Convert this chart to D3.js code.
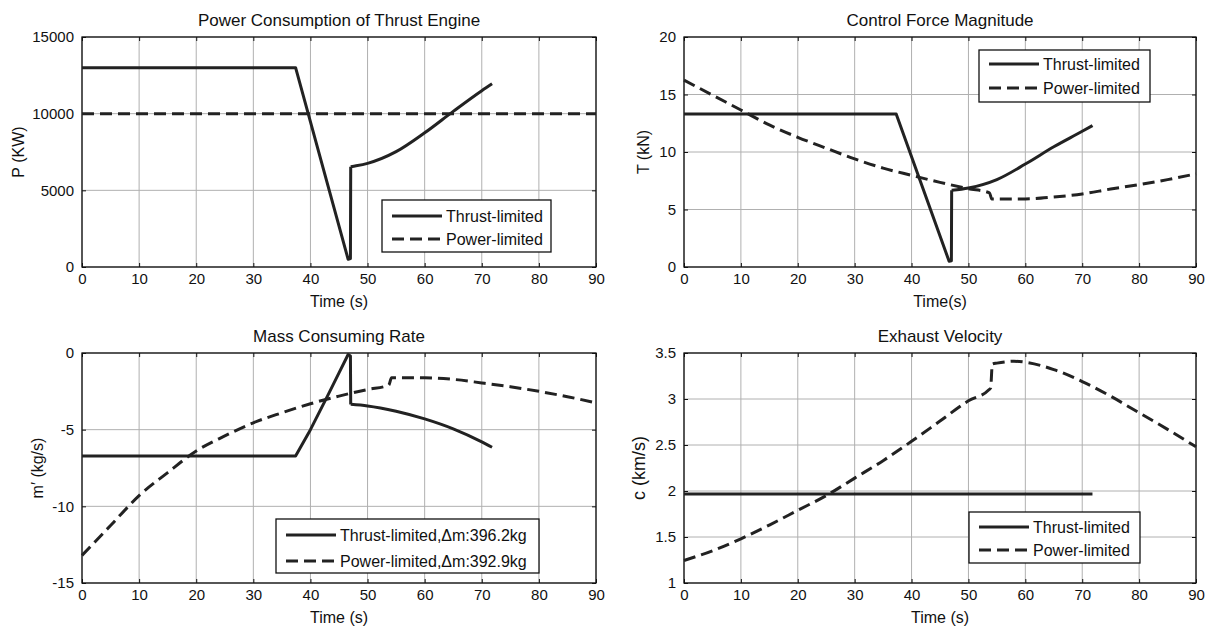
<!DOCTYPE html>
<html>
<head>
<meta charset="utf-8">
<script src="https://cdn.jsdelivr.net/npm/d3@7"></script>
<style>
  body { margin: 0; background: #fff; }
  svg { display: block; font-family: "Liberation Sans", Arial, sans-serif; }
</style>
</head>
<body>
<div class="graph"></div>
<script>
// --- data ---
const timeTicks = [0, 10, 20, 30, 40, 50, 60, 70, 80, 90];

// power consumption (kW)
const pThrustT = [0, 37.4, 46.6, 47.0, 47.05, 48, 50, 55, 60, 65, 70, 71.8];
const pThrustV = [13000, 13000, 500, 550, 6540, 6600, 6760, 7520, 8750, 10150, 11500, 11950];
const pPowerT = [0, 90];
const pPowerV = [10000, 10000];
const pTicks = [0, 5000, 10000, 15000];

// control force (kN)
const fThrustT = [0, 37.3, 46.6, 47.0, 47.05, 50, 55, 60, 65, 70, 71.8];
const fThrustV = [13.3, 13.3, 0.5, 0.55, 6.67, 6.87, 7.6, 8.95, 10.45, 11.8, 12.3];
const fPowerT = [0, 5, 10, 15, 20, 25, 30, 35, 40, 45, 50, 53.7, 54.1, 60, 65, 70, 75, 80, 85, 90];
const fPowerV = [16.25, 14.95, 13.65, 12.35, 11.28, 10.33, 9.4, 8.6, 7.97, 7.36, 6.81, 6.45, 5.92, 5.92, 6.09, 6.35, 6.78, 7.16, 7.6, 8.1];
const fTicks = [0, 5, 10, 15, 20];

// mass consuming rate (kg/s)
const mThrustT = [0, 37.4, 40, 43, 45, 46.6, 47.0, 47.05, 50, 55, 60, 65, 70, 71.8];
const mThrustV = [-6.72, -6.72, -5.0, -2.8, -1.3, -0.1, -0.2, -3.35, -3.45, -3.8, -4.3, -4.95, -5.8, -6.15];
const mPowerT = [0, 5, 10, 15, 20, 25, 30, 35, 40, 45, 50, 53.7, 54.2, 60, 65, 70, 75, 80, 85, 90];
const mPowerV = [-13.2, -11.25, -9.3, -7.8, -6.39, -5.41, -4.55, -3.9, -3.31, -2.81, -2.38, -2.1, -1.62, -1.62, -1.72, -1.95, -2.2, -2.5, -2.85, -3.25];
const mTicks = [-15, -10, -5, 0];

// exhaust velocity (km/s)
const cThrustT = [0, 71.8];
const cThrustV = [1.967, 1.967];
const cPowerT = [0, 5, 10, 15, 20, 25, 30, 35, 40, 45, 50, 53.6, 53.9, 54.2, 55, 58, 60, 65, 70, 75, 80, 85, 90];
const cPowerV = [1.245, 1.35, 1.48, 1.63, 1.79, 1.95, 2.14, 2.33, 2.54, 2.76, 2.98, 3.10, 3.12, 3.38, 3.39, 3.41, 3.40, 3.32, 3.19, 3.03, 2.85, 2.67, 2.48];
const cTicks = [1, 1.5, 2, 2.5, 3, 3.5];

const svg = d3.select(".graph").append("svg")
    .attr("width", 1208)
    .attr("height", 629);

svg.append("rect").attr("width", 1208).attr("height", 629).attr("fill", "#fff");

function zip(t, v) {
    return t.map(function (d, i) { return [d, v[i]]; });
}

function addPanel(p) {
    var w = p.right - p.left, h = p.bottom - p.top;
    var x = d3.scaleLinear().domain([0, 90]).range([0, w]);
    var y = d3.scaleLinear().domain(p.yDomain).range([h, 0]);
    var fmt = function (d) { return d; };

    var g = svg.append("g")
        .attr("transform", "translate(" + p.left + "," + p.top + ")");

    // grid
    g.selectAll(".gx").data(timeTicks).enter().append("line")
        .attr("x1", function (d) { return x(d); }).attr("x2", function (d) { return x(d); })
        .attr("y1", 0).attr("y2", h)
        .attr("stroke", "#b0b0b0").attr("stroke-width", 1);
    g.selectAll(".gy").data(p.yTicks).enter().append("line")
        .attr("y1", function (d) { return y(d); }).attr("y2", function (d) { return y(d); })
        .attr("x1", 0).attr("x2", w)
        .attr("stroke", "#b0b0b0").attr("stroke-width", 1);

    // axes with inner ticks
    g.append("g").attr("transform", "translate(0," + h + ")")
        .call(d3.axisBottom(x).tickValues(timeTicks).tickFormat(fmt).tickSizeInner(-4).tickSizeOuter(0).tickPadding(6));
    g.append("g")
        .call(d3.axisTop(x).tickValues(timeTicks).tickSizeInner(-4).tickSizeOuter(0).tickFormat(""));
    g.append("g")
        .call(d3.axisLeft(y).tickValues(p.yTicks).tickFormat(fmt).tickSizeInner(-4).tickSizeOuter(0).tickPadding(8));
    g.append("g").attr("transform", "translate(" + w + ",0)")
        .call(d3.axisRight(y).tickValues(p.yTicks).tickSizeInner(-4).tickSizeOuter(0).tickFormat(""));
    g.selectAll(".domain").remove();
    g.selectAll(".tick text").attr("font-size", "15px").attr("fill", "#111")
        .style("font-family", "Liberation Sans, Arial, sans-serif");
    g.selectAll(".tick line").attr("stroke", "#111");

    g.append("rect").attr("width", w).attr("height", h)
        .attr("fill", "none").attr("stroke", "#111").attr("stroke-width", 1.3);

    // data lines: straight part, then a smooth part from index s.smoothFrom
    p.series.forEach(function (s) {
        var pts = zip(s.t, s.v);
        var parts = [];
        if (s.smoothFrom > 0) {
            parts.push({ pts: pts.slice(0, s.smoothFrom + 1), curve: d3.curveLinear });
            parts.push({ pts: pts.slice(s.smoothFrom), curve: d3.curveMonotoneX });
        } else {
            parts.push({ pts: pts, curve: s.smoothFrom === 0 ? d3.curveMonotoneX : d3.curveLinear });
        }
        parts.forEach(function (part) {
            var line = d3.line()
                .x(function (d) { return x(d[0]); })
                .y(function (d) { return y(d[1]); })
                .curve(part.curve);
            g.append("path")
                .datum(part.pts)
                .attr("d", line)
                .attr("fill", "none")
                .attr("stroke", "#222")
                .attr("stroke-width", 3)
                .attr("stroke-linejoin", "round")
                .attr("stroke-dasharray", s.dash ? "12,6" : null);
        });
    });

    // titles and labels
    svg.append("text")
        .attr("x", p.left + w / 2).attr("y", p.top - 11)
        .attr("text-anchor", "middle").attr("font-size", "17px").attr("fill", "#111")
        .text(p.title);
    svg.append("text")
        .attr("x", p.left + w / 2).attr("y", p.bottom + 40)
        .attr("text-anchor", "middle").attr("font-size", "16px").attr("fill", "#111")
        .text(p.xLabel);
    svg.append("text")
        .attr("transform", "translate(" + (p.left + p.yLabelOffset) + "," + (p.top + h / 2) + ") rotate(-90)")
        .attr("text-anchor", "middle").attr("dominant-baseline", "central")
        .attr("font-size", p.yLabelSize + "px").attr("fill", "#111")
        .text(p.yLabel);

    // legend
    var L = p.legend;
    var lg = svg.append("g").attr("transform", "translate(" + L.x + "," + L.y + ")");
    lg.append("rect").attr("width", L.w).attr("height", L.h)
        .attr("fill", "#fff").attr("stroke", "#111").attr("stroke-width", 1.3);
    L.labels.forEach(function (lab, i) {
        var ry = L.rows[i];
        lg.append("line")
            .attr("x1", 10).attr("x2", 60).attr("y1", ry).attr("y2", ry)
            .attr("stroke", "#222").attr("stroke-width", 3)
            .attr("stroke-dasharray", i === 1 ? "12,6" : null);
        lg.append("text")
            .attr("x", 64).attr("y", ry).attr("dominant-baseline", "central")
            .attr("font-size", "16px").attr("fill", "#111")
            .text(lab);
    });
}

addPanel({
    left: 82, right: 596, top: 37, bottom: 267,
    yDomain: [0, 15000], yTicks: pTicks,
    title: "Power Consumption of Thrust Engine", xLabel: "Time (s)",
    yLabel: "P (KW)", yLabelSize: 16, yLabelOffset: -64,
    series: [
        { t: pThrustT, v: pThrustV, dash: false, smoothFrom: 4 },
        { t: pPowerT, v: pPowerV, dash: true, smoothFrom: -1 }
    ],
    legend: { x: 382, y: 200, w: 169, h: 52, rows: [16, 39],
        labels: ["Thrust-limited", "Power-limited"] }
});

addPanel({
    left: 684, right: 1196, top: 37, bottom: 267,
    yDomain: [0, 20], yTicks: fTicks,
    title: "Control Force Magnitude", xLabel: "Time(s)",
    yLabel: "T (kN)", yLabelSize: 16, yLabelOffset: -41,
    series: [
        { t: fThrustT, v: fThrustV, dash: false, smoothFrom: 4 },
        { t: fPowerT, v: fPowerV, dash: true, smoothFrom: 0 }
    ],
    legend: { x: 979, y: 50, w: 171, h: 52, rows: [14, 38],
        labels: ["Thrust-limited", "Power-limited"] }
});

addPanel({
    left: 82, right: 596, top: 353, bottom: 583,
    yDomain: [-15, 0], yTicks: mTicks,
    title: "Mass Consuming Rate", xLabel: "Time (s)",
    yLabel: "m\u2032 (kg/s)", yLabelSize: 16, yLabelOffset: -45,
    series: [
        { t: mThrustT, v: mThrustV, dash: false, smoothFrom: 7 },
        { t: mPowerT, v: mPowerV, dash: true, smoothFrom: 0 }
    ],
    legend: { x: 276, y: 519, w: 263, h: 54, rows: [16, 42],
        labels: ["Thrust-limited,\u0394m:396.2kg", "Power-limited,\u0394m:392.9kg"] }
});

addPanel({
    left: 684, right: 1196, top: 353, bottom: 583,
    yDomain: [1, 3.5], yTicks: cTicks,
    title: "Exhaust Velocity", xLabel: "Time (s)",
    yLabel: "c (km/s)", yLabelSize: 18, yLabelOffset: -45,
    series: [
        { t: cThrustT, v: cThrustV, dash: false, smoothFrom: -1 },
        { t: cPowerT, v: cPowerV, dash: true, smoothFrom: 0 }
    ],
    legend: { x: 969, y: 512, w: 171, h: 51, rows: [15, 38],
        labels: ["Thrust-limited", "Power-limited"] }
});
</script>
</body>
</html>
